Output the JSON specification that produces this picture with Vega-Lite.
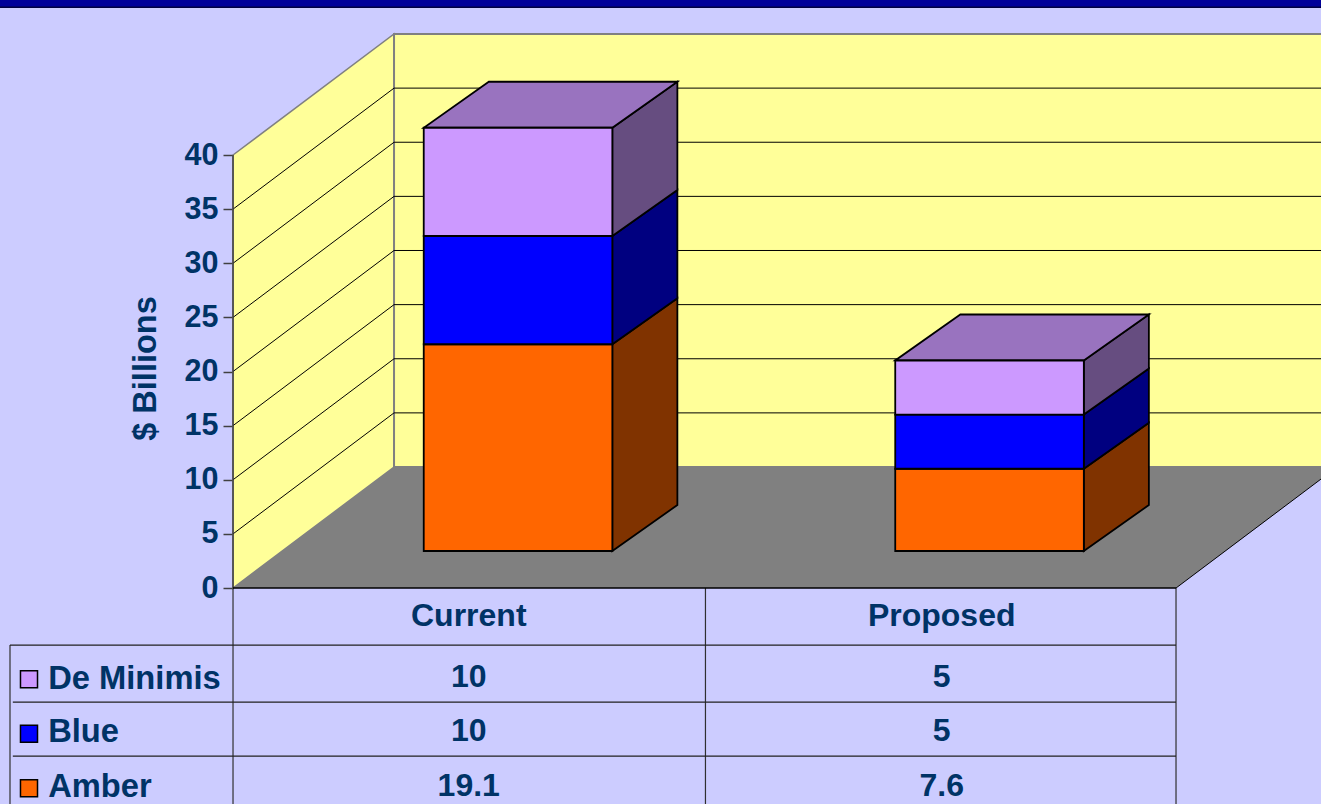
{"$schema":"https://vega.github.io/schema/vega-lite/v6.json","width":1321,"height":804,"autosize":"none","padding":0,"background":"#CCCCFF","config":{"view":{"stroke":null},"text":{"font":"Liberation Sans","fontWeight":"bold","fontSize":32,"baseline":"middle"}},"datasets":{"segments":[{"category":"Current","series":"Amber","value":19.1,"slot":0},{"category":"Current","series":"Blue","value":10,"slot":0},{"category":"Current","series":"De Minimis","value":10,"slot":0},{"category":"Proposed","series":"Amber","value":7.6,"slot":1},{"category":"Proposed","series":"Blue","value":5,"slot":1},{"category":"Proposed","series":"De Minimis","value":5,"slot":1}],"levels":[{"level":0},{"level":5},{"level":10},{"level":15},{"level":20},{"level":25},{"level":30},{"level":35},{"level":40}]},"encoding":{"x":{"type":"quantitative","scale":{"domain":[-0.4942,2.3075],"range":[0,1321]},"axis":null},"y":{"type":"quantitative","scale":{"domain":[-19.95,54.32],"range":[804,0]},"axis":{"values":[0,5,10,15,20,25,30,35,40],"offset":-233,"domain":false,"grid":false,"tickColor":"#404040","tickSize":10,"tickWidth":1.5,"labelFont":"Liberation Sans","labelFontWeight":"bold","labelFontSize":30.5,"labelColor":"#003366","labelPadding":5,"title":"$ Billions","titleFont":"Liberation Sans","titleFontWeight":"bold","titleFontSize":32.5,"titleColor":"#003366","titleX":-88,"titleY":368,"titleAngle":-90,"titleAlign":"center","titleBaseline":"middle"}},"fill":{"scale":{"domain":["Amber","Blue","De Minimis","Amber side","Blue side","De Minimis side","De Minimis top"],"range":["#FF6600","#0000FF","#CC99FF","#803300","#000080","#664D80","#9973BF"]},"legend":null}},"layer":[{"data":{"values":[{"d":0}]},"mark":{"type":"rect"},"encoding":{"x":{"datum":-0.4942,"type":"quantitative"},"x2":{"datum":2.3075},"y":{"datum":54.32,"type":"quantitative"},"y2":{"datum":53.65},"fill":{"value":"#000099"}}},{"data":{"values":[{"d":0}]},"mark":{"type":"rule","stroke":"#000040","strokeWidth":1.5},"encoding":{"x":{"datum":-0.4942,"type":"quantitative"},"x2":{"datum":2.3075},"y":{"datum":53.65,"type":"quantitative"},"fill":{"value":null}}},{"data":{"values":[{"d":0},{"d":1}]},"transform":[{"calculate":"datum.d*0.3415","as":"wx"},{"calculate":"40+datum.d*11.18","as":"wt"},{"calculate":"datum.d*11.18","as":"wb"}],"mark":{"type":"area","orient":"vertical","stroke":"#808080","strokeWidth":1.5},"encoding":{"x":{"field":"wx","type":"quantitative"},"y":{"field":"wt","type":"quantitative"},"y2":{"field":"wb"},"fill":{"value":"#FFFF99"}}},{"data":{"values":[{"d":1}]},"mark":{"type":"rect","stroke":"#808080","strokeWidth":2,"clip":true},"encoding":{"x":{"datum":0.3415,"type":"quantitative"},"x2":{"datum":2.36},"y":{"datum":11.18,"type":"quantitative"},"y2":{"datum":51.18},"fill":{"value":"#FFFF99"}}},{"data":{"name":"levels"},"transform":[{"filter":"datum.level>0 && datum.level<40"},{"calculate":"datum.level+11.18","as":"by"}],"mark":{"type":"rule","stroke":"#000000","strokeWidth":1,"clip":true},"encoding":{"x":{"datum":0.3415,"type":"quantitative"},"x2":{"datum":2.36},"y":{"field":"by","type":"quantitative"},"fill":{"value":null}}},{"data":{"name":"levels"},"transform":[{"filter":"datum.level>0 && datum.level<40"},{"calculate":"datum.level+11.18","as":"by"}],"mark":{"type":"rule","stroke":"#000000","strokeWidth":1},"encoding":{"x":{"datum":0,"type":"quantitative"},"x2":{"datum":0.3415},"y":{"field":"level","type":"quantitative"},"y2":{"field":"by"},"fill":{"value":null}}},{"data":{"values":[{"d":0},{"d":1}]},"transform":[{"calculate":"datum.d*0.3415","as":"fx"},{"calculate":"2+datum.d*0.3415","as":"fx2"},{"calculate":"datum.d*11.18","as":"fy"}],"mark":{"type":"area","orient":"horizontal","clip":true},"encoding":{"x":{"field":"fx","type":"quantitative"},"x2":{"field":"fx2"},"y":{"field":"fy","type":"quantitative"},"fill":{"value":"#808080"}}},{"data":{"values":[{"d":0}]},"mark":{"type":"rule","stroke":"#000000","strokeWidth":1,"clip":true},"encoding":{"x":{"datum":2,"type":"quantitative"},"x2":{"datum":2.3415},"y":{"datum":0,"type":"quantitative"},"y2":{"datum":11.18},"fill":{"value":null}}},{"data":{"name":"segments"},"transform":[{"stack":"value","groupby":["category"],"sort":[{"field":"series","order":"ascending"}],"as":["v0","v1"]},{"calculate":"[0.306,0.686]","as":"d"},{"flatten":["d"]},{"calculate":"datum.slot+0.8045+(datum.d-0.306)*0.363","as":"sx"},{"calculate":"datum.v0+datum.d*11.18","as":"sb"},{"calculate":"datum.v1+datum.d*11.18","as":"st"},{"calculate":"datum.series+' side'","as":"key"}],"mark":{"type":"area","orient":"vertical","stroke":"#000000","strokeWidth":1.8},"encoding":{"x":{"field":"sx","type":"quantitative"},"y":{"field":"st","type":"quantitative"},"y2":{"field":"sb"},"fill":{"field":"key","type":"nominal"},"detail":{"field":"category"}}},{"data":{"name":"segments"},"transform":[{"stack":"value","groupby":["category"],"sort":[{"field":"series","order":"ascending"}],"as":["v0","v1"]},{"filter":"datum.series==='De Minimis'"},{"calculate":"[0.306,0.686]","as":"d"},{"flatten":["d"]},{"calculate":"datum.slot+0.4045+(datum.d-0.306)*0.363","as":"tx"},{"calculate":"datum.slot+0.8045+(datum.d-0.306)*0.363","as":"tx2"},{"calculate":"datum.v1+datum.d*11.18","as":"ty"},{"calculate":"datum.series+' top'","as":"key"}],"mark":{"type":"area","orient":"horizontal","stroke":"#000000","strokeWidth":1.8},"encoding":{"x":{"field":"tx","type":"quantitative"},"x2":{"field":"tx2"},"y":{"field":"ty","type":"quantitative"},"fill":{"field":"key","type":"nominal"},"detail":{"field":"category"}}},{"data":{"name":"segments"},"transform":[{"stack":"value","groupby":["category"],"sort":[{"field":"series","order":"ascending"}],"as":["v0","v1"]},{"calculate":"datum.slot+0.4045","as":"fx"},{"calculate":"datum.slot+0.8045","as":"fx2"},{"calculate":"datum.v0+3.42","as":"fb"},{"calculate":"datum.v1+3.42","as":"ft"}],"mark":{"type":"rect","stroke":"#000000","strokeWidth":1.8},"encoding":{"x":{"field":"fx","type":"quantitative"},"x2":{"field":"fx2"},"y":{"field":"ft","type":"quantitative"},"y2":{"field":"fb"},"fill":{"field":"series","type":"nominal"}}},{"data":{"values":[{"edge":0},{"edge":1.002},{"edge":2}]},"mark":{"type":"rule","stroke":"#303030","strokeWidth":1.2},"encoding":{"x":{"field":"edge","type":"quantitative"},"y":{"datum":0,"type":"quantitative"},"y2":{"datum":-19.95},"fill":{"value":null}}},{"data":{"values":[{"d":0}]},"mark":{"type":"rule","stroke":"#404040","strokeWidth":1.5},"encoding":{"x":{"datum":0,"type":"quantitative"},"y":{"datum":40,"type":"quantitative"},"y2":{"datum":0},"fill":{"value":null}}},{"data":{"values":[{"d":0}]},"mark":{"type":"rule","stroke":"#303030","strokeWidth":1.2},"encoding":{"x":{"datum":-0.4730,"type":"quantitative"},"y":{"datum":-5.27,"type":"quantitative"},"y2":{"datum":-19.95},"fill":{"value":null}}},{"data":{"values":[{"line":-5.27,"start":-0.473},{"line":-10.53,"start":-0.467},{"line":-15.52,"start":-0.467}]},"mark":{"type":"rule","stroke":"#202020","strokeWidth":1.2},"encoding":{"x":{"field":"start","type":"quantitative"},"x2":{"datum":2},"y":{"field":"line","type":"quantitative"},"fill":{"value":null}}},{"data":{"values":[{"d":0}]},"mark":{"type":"rule","stroke":"#000000","strokeWidth":1.5},"encoding":{"x":{"datum":0,"type":"quantitative"},"x2":{"datum":2},"y":{"datum":0,"type":"quantitative"},"fill":{"value":null}}},{"data":{"name":"segments"},"transform":[{"filter":"datum.series==='Amber'"},{"calculate":"datum.slot+0.5+datum.slot*0.003","as":"cx"}],"mark":{"type":"text","align":"center"},"encoding":{"x":{"field":"cx","type":"quantitative"},"y":{"datum":-2.59,"type":"quantitative"},"text":{"field":"category","type":"nominal"},"fill":{"value":"#003366"}}},{"data":{"name":"segments"},"transform":[{"calculate":"datum.slot+0.5+datum.slot*0.003","as":"cx"},{"calculate":"{'De Minimis':-8.22,'Blue':-13.25,'Amber':-18.29}[datum.series]","as":"ry"}],"mark":{"type":"text","align":"center"},"encoding":{"x":{"field":"cx","type":"quantitative"},"y":{"field":"ry","type":"quantitative"},"text":{"field":"value","type":"nominal"},"fill":{"value":"#003366"}}},{"data":{"name":"segments"},"transform":[{"filter":"datum.slot===0"},{"calculate":"{'De Minimis':-8.38,'Blue':-13.34,'Amber':-18.39}[datum.series]","as":"ry"}],"mark":{"type":"text","align":"left","fontSize":32.7},"encoding":{"x":{"datum":-0.392,"type":"quantitative"},"y":{"field":"ry","type":"quantitative"},"text":{"field":"series","type":"nominal"},"fill":{"value":"#003366"}}},{"data":{"name":"segments"},"transform":[{"filter":"datum.slot===0"},{"calculate":"{'De Minimis':-8.42,'Blue':-13.47,'Amber':-18.5}[datum.series]","as":"ry"}],"mark":{"type":"point","shape":"square","filled":true,"size":290,"stroke":"#000000","strokeWidth":1.5,"opacity":1},"encoding":{"x":{"datum":-0.4327,"type":"quantitative"},"y":{"field":"ry","type":"quantitative"},"fill":{"field":"series","type":"nominal"}}}]}
